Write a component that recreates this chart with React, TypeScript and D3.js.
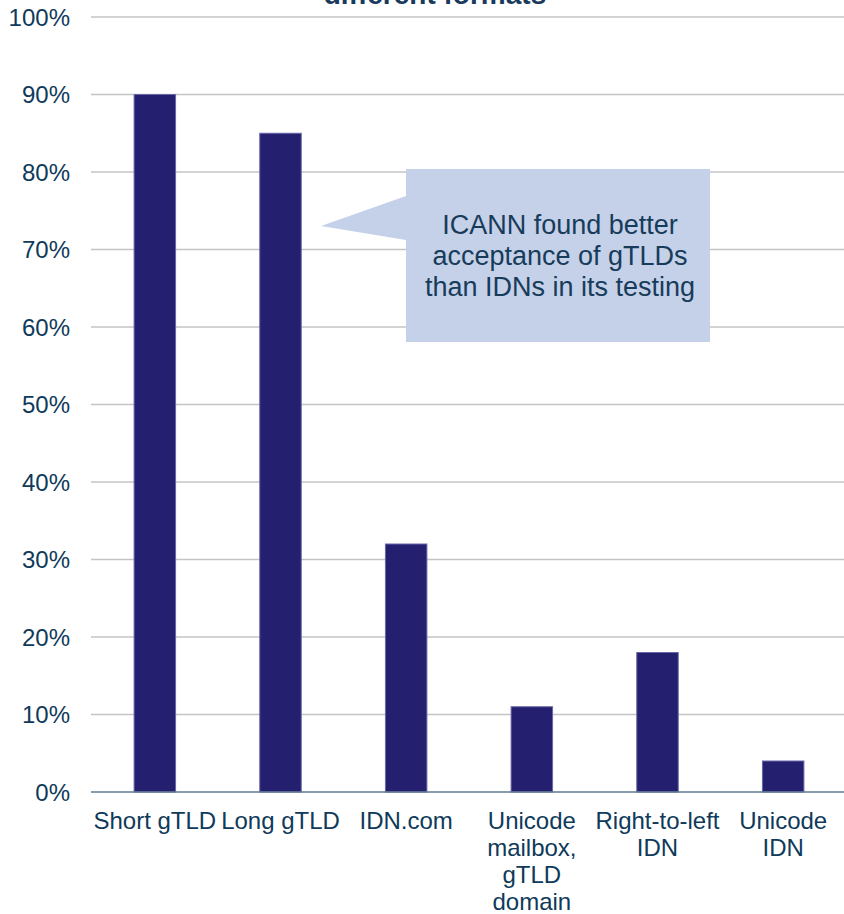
import React, { useEffect, useRef } from 'react';
import * as d3 from 'd3';

// chart data
const categories: string[][] = [
  ['Short gTLD'],
  ['Long gTLD'],
  ['IDN.com'],
  ['Unicode', 'mailbox,', 'gTLD', 'domain'],
  ['Right-to-left', 'IDN'],
  ['Unicode', 'IDN'],
];
const acceptance: number[] = [90, 85, 32, 11, 18, 4];
const yTicks: number[] = [0, 10, 20, 30, 40, 50, 60, 70, 80, 90, 100];
const titleText = 'different formats';
const calloutLines: string[] = ['ICANN found better', 'acceptance of gTLDs', 'than IDNs in its testing'];

const W = 844;
const H = 914;
const textColor = '#0f3a5a';
const font = '"Liberation Sans", Arial, sans-serif';

const App: React.FC = () => {
  const svgRef = useRef<SVGSVGElement>(null);

  useEffect(() => {
    if (!svgRef.current) return;
    const svg = d3.select(svgRef.current);
    svg.selectAll('*').remove();

    const keys = categories.map((c) => c.join(' '));

    const x = d3.scaleBand<string>()
      .domain(keys)
      .range([92, 846])
      .paddingInner(0.67)
      .paddingOuter(0.335);

    const y = d3.scaleLinear().domain([0, 100]).range([792, 17]);

    // title (mostly cut off at the top)
    svg.append('text')
      .attr('x', 435)
      .attr('y', 4)
      .attr('text-anchor', 'middle')
      .attr('font-family', font)
      .attr('font-weight', 'bold')
      .attr('font-size', 28)
      .attr('fill', '#1a3a5c')
      .text(titleText);

    // gridlines
    svg.append('g')
      .selectAll('line')
      .data(yTicks.filter((t) => t > 0))
      .enter()
      .append('line')
      .attr('x1', 91)
      .attr('x2', W)
      .attr('y1', (d) => y(d))
      .attr('y2', (d) => y(d))
      .attr('stroke', '#c4c4c4')
      .attr('stroke-width', 1.5);

    // y tick labels
    svg.append('g')
      .selectAll('text')
      .data(yTicks)
      .enter()
      .append('text')
      .attr('x', 70)
      .attr('y', (d) => y(d))
      .attr('dy', '0.36em')
      .attr('text-anchor', 'end')
      .attr('font-family', font)
      .attr('font-size', 24)
      .attr('fill', textColor)
      .text((d) => `${d}%`);

    // bars
    svg.append('g')
      .selectAll('rect')
      .data(acceptance)
      .enter()
      .append('rect')
      .attr('x', (_, i) => x(keys[i])!)
      .attr('width', x.bandwidth())
      .attr('y', (d) => y(d))
      .attr('height', (d) => y(0) - y(d))
      .attr('fill', '#241f6e')
      .attr('stroke', '#6a67a8')
      .attr('stroke-width', 1);

    // baseline
    svg.append('line')
      .attr('x1', 91)
      .attr('x2', W)
      .attr('y1', y(0))
      .attr('y2', y(0))
      .attr('stroke', '#5f7a90')
      .attr('stroke-width', 1.5);

    // category labels
    const lab = svg.append('g')
      .selectAll('text')
      .data(categories)
      .enter()
      .append('text')
      .attr('x', (_, i) => x(keys[i])! + x.bandwidth() / 2)
      .attr('y', 829)
      .attr('text-anchor', 'middle')
      .attr('font-family', font)
      .attr('font-size', 24)
      .attr('fill', textColor);
    lab.selectAll('tspan')
      .data((d) => d)
      .enter()
      .append('tspan')
      .attr('x', function () {
        return (this as SVGTSpanElement).parentElement!.getAttribute('x');
      })
      .attr('dy', (_, i) => (i === 0 ? 0 : 27))
      .text((d) => d);

    // callout
    const callout = svg.append('g');
    callout.append('path')
      .attr('d', 'M406,169 L710,169 L710,342 L406,342 L406,240 L321,226 L406,196 Z')
      .attr('fill', '#c5d0e9');
    callout.selectAll('text')
      .data(calloutLines)
      .enter()
      .append('text')
      .attr('x', 560)
      .attr('y', (_, i) => 234 + i * 31)
      .attr('text-anchor', 'middle')
      .attr('font-family', font)
      .attr('font-size', 27)
      .attr('fill', '#173c5a')
      .text((d) => d);
  }, []);

  return (
    <svg
      ref={svgRef}
      width={W}
      height={H}
      style={{ position: 'absolute', left: 0, top: 0, background: '#fff' }}
    />
  );
};

export default App;
